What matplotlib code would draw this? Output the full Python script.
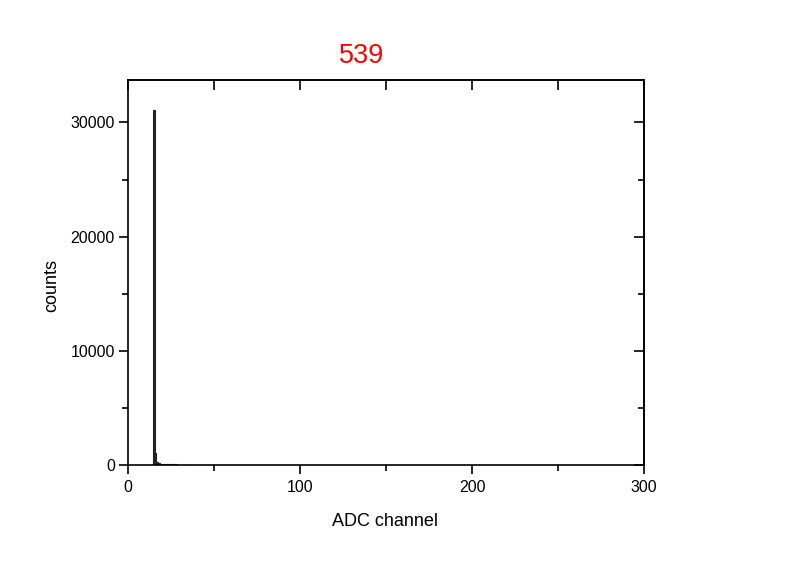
import numpy as np
import matplotlib.pyplot as plt
from matplotlib.ticker import MultipleLocator

plt.rcParams['font.family'] = ['Liberation Sans', 'DejaVu Sans']

# histogram of ADC channels, only the non-empty bins are listed
channels = [15, 16, 17, 18, 19, 20, 21, 22, 23, 24, 25, 26, 27, 28, 29, 30, 31, 32, 33]
counts = [31080, 1050, 280, 150, 110, 90, 80, 70, 70, 60, 60, 50, 50, 50, 40, 40, 40, 30, 30]
title = "539"

fig = plt.figure(figsize=(8, 5.65), dpi=100)
ax = fig.add_axes([0.16, 0.177, 0.645, 0.681])

ax.bar(channels, counts, width=1.0, color='#222222', edgecolor='#222222', linewidth=0.8)

ax.set_xlim(0, 300)
ax.set_ylim(0, 33700)
for s in ax.spines.values():
    s.set_linewidth(1.2)

# Origin-style: outward ticks on left/bottom, inward on top/right
top = ax.secondary_xaxis('top')
right = ax.secondary_yaxis('right')
for a in (ax.xaxis, top.xaxis):
    a.set_major_locator(MultipleLocator(100))
    a.set_minor_locator(MultipleLocator(50))
for a in (ax.yaxis, right.yaxis):
    a.set_major_locator(MultipleLocator(10000))
    a.set_minor_locator(MultipleLocator(5000))

ax.tick_params(which='both', direction='out', labelsize=11.5, width=1.2)
ax.tick_params(which='major', length=6.5)
ax.tick_params(which='minor', length=4)
ax.tick_params(axis='y', pad=3)
ax.tick_params(axis='x', pad=4)

top.tick_params(which='both', direction='in', width=1.2, labeltop=False, length=7)
right.tick_params(which='both', direction='in', width=1.2, labelright=False)
right.tick_params(which='major', length=7)
right.tick_params(which='minor', length=4)
for s in (top, right):
    for sp in s.spines.values():
        sp.set_linewidth(1.2)

fig.text(362 / 800, 1 - 56 / 565, title, color='red', fontsize=19.5, ha='center', va='center')
fig.text(385 / 800, 1 - 521 / 565, "ADC channel", fontsize=13, ha='center', va='center')
fig.text(52 / 800, 1 - 286 / 565, "counts", fontsize=13, ha='center', va='center', rotation=90)

fig.savefig("out.png", dpi=100)
